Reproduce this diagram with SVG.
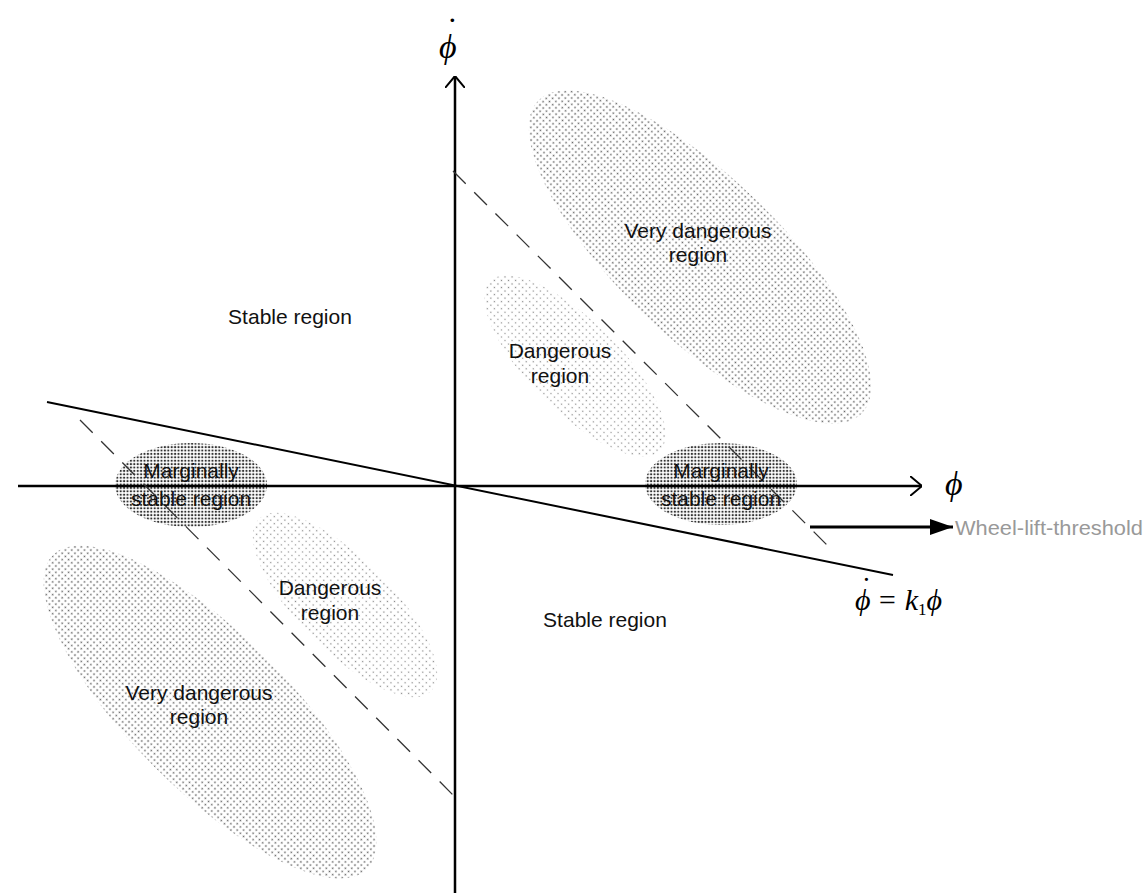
<svg xmlns="http://www.w3.org/2000/svg" width="1144" height="893" viewBox="0 0 1144 893">
<style>
.lbl{font-family:"Liberation Sans",Arial,sans-serif;font-size:21px;fill:#111;text-anchor:middle}
.math{font-family:"Liberation Serif","Times New Roman",serif;font-style:italic;fill:#000}
.axis{stroke:#000;stroke-width:2.5;fill:none}
.dash{stroke:#333;stroke-width:1.3;stroke-dasharray:18 12;fill:none}
</style>
<defs>
<pattern id="pVery" width="4.5" height="4.5" patternUnits="userSpaceOnUse"><circle cx="2.25" cy="2.25" r="0.9" fill="#666"/></pattern>
<pattern id="pDang" width="5" height="5" patternUnits="userSpaceOnUse"><circle cx="2.5" cy="2.5" r="0.75" fill="#888"/></pattern>
<pattern id="pMarg" width="3.4" height="3.4" patternUnits="userSpaceOnUse"><circle cx="1.7" cy="1.7" r="1.15" fill="#333"/></pattern>
<marker id="open" viewBox="0 0 12 20" refX="12" refY="10" markerWidth="12" markerHeight="20" markerUnits="userSpaceOnUse" orient="auto"><path d="M0,0 L12,10 L0,20" fill="none" stroke="#000" stroke-width="2"/></marker>
<marker id="fill" viewBox="0 0 23 16" refX="23" refY="8" markerWidth="23" markerHeight="16" markerUnits="userSpaceOnUse" orient="auto"><path d="M0,0 L23,8 L0,16 Z" fill="#000"/></marker>
</defs>
<rect width="1144" height="893" fill="#fff"/>
<g id="very-dangerous-upper"><ellipse cx="700" cy="257" rx="225" ry="80" transform="rotate(44 700 257)" fill="url(#pVery)"/><text class="lbl" x="698" y="238">Very dangerous</text><text class="lbl" x="698" y="262">region</text></g>
<g id="dangerous-upper"><ellipse cx="575" cy="366" rx="120" ry="45" transform="rotate(45 575 366)" fill="url(#pDang)"/><text class="lbl" x="560" y="358">Dangerous</text><text class="lbl" x="560" y="383">region</text></g>
<g id="very-dangerous-lower"><ellipse cx="210" cy="712" rx="222" ry="78" transform="rotate(45 210 712)" fill="url(#pVery)"/><text class="lbl" x="199" y="700">Very dangerous</text><text class="lbl" x="199" y="724">region</text></g>
<g id="dangerous-lower"><ellipse cx="345" cy="605" rx="122" ry="46" transform="rotate(45 345 605)" fill="url(#pDang)"/><text class="lbl" x="330" y="595">Dangerous</text><text class="lbl" x="330" y="620">region</text></g>
<g id="marginal-right"><ellipse cx="721" cy="484" rx="76" ry="41" fill="url(#pMarg)"/></g>
<g id="marginal-left"><ellipse cx="191" cy="485" rx="76" ry="42" fill="url(#pMarg)"/></g>
<g id="connectors">
<line class="axis" x1="455" y1="893" x2="455" y2="76" marker-end="url(#open)"/>
<line class="axis" x1="18" y1="486" x2="922" y2="486" marker-end="url(#open)"/>
<line x1="47" y1="402" x2="893" y2="575" stroke="#000" stroke-width="2"/>
<line class="dash" x1="453" y1="171" x2="830" y2="548"/>
<line class="dash" x1="80" y1="420" x2="455" y2="797"/>
<line x1="810" y1="527" x2="953" y2="527" stroke="#000" stroke-width="2.8" marker-end="url(#fill)"/>
</g>
<g id="labels">
<text class="lbl" x="191" y="478">Marginally</text><text class="lbl" x="191" y="506">stable region</text>
<text class="lbl" x="721" y="478">Marginally</text><text class="lbl" x="721" y="506">stable region</text>
<text class="lbl" x="290" y="324">Stable region</text>
<text class="lbl" x="605" y="627">Stable region</text>
<text x="955" y="535" font-family="Liberation Sans, Arial, sans-serif" font-size="21" fill="#999" textLength="188" lengthAdjust="spacingAndGlyphs">Wheel-lift-threshold</text>
<text class="math" x="439" y="58" font-size="34">ϕ<tspan dx="-12" dy="-17">˙</tspan></text>
<text class="math" x="945" y="495" font-size="34">ϕ</text>
<text class="math" x="855" y="610" font-size="30">ϕ<tspan dx="-11" dy="-12">˙</tspan><tspan dy="12"> = k</tspan><tspan font-size="17" dy="5" font-style="normal">1</tspan><tspan dy="-5">ϕ</tspan></text>
</g>
</svg>
